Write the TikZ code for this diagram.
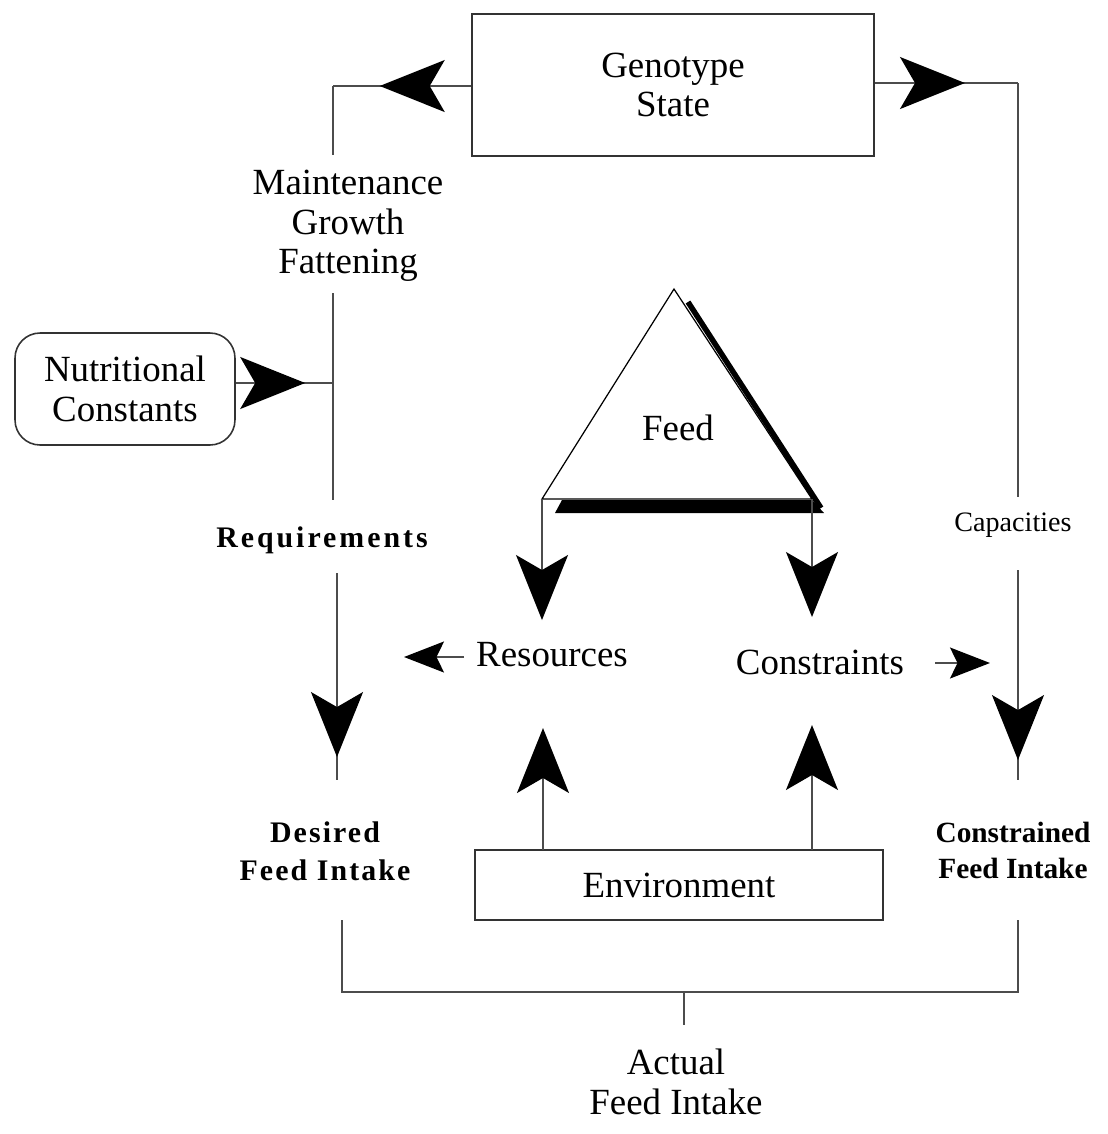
\documentclass[tikz,border=0pt]{standalone}
\usepackage{fontspec}
\setmainfont{Liberation Serif}
\newfontfamily\reqfont[LetterSpace=10]{Liberation Serif}
\newfontfamily\desfont[LetterSpace=7]{Liberation Serif}
\usetikzlibrary{arrows.meta,decorations.markings}
\tikzset{
  BigDart/.tip={Stealth[length=1.3cm,width=1.04cm,inset=0.3cm,color=black]},
  SmallDart/.tip={Stealth[length=0.8cm,width=0.62cm,inset=0.15cm,color=black]},
  wire/.style={draw=black!70,line width=0.9pt},
  dartat/.style={postaction={decorate},decoration={markings,mark=at position #1 with {\arrow{BigDart}}}},
  box/.style={draw=black!80,line width=0.9pt},
  txt/.style={align=center,font=\fontsize{21}{22.5}\selectfont},
  reqtxt/.style={font=\reqfont\bfseries\fontsize{17}{20}\selectfont},
  captxt/.style={font=\fontsize{16}{19}\selectfont},
  desiredtxt/.style={align=center,font=\desfont\bfseries\fontsize{17}{21.5}\selectfont},
  constrtxt/.style={align=center,font=\bfseries\fontsize{16.7}{20.5}\selectfont}
}

\begin{document}
\begin{tikzpicture}[x=0.02cm,y=-0.02cm]
\useasboundingbox (0,0) rectangle (1107,1134);

\node[box,txt,minimum width=8.04cm,minimum height=2.84cm] (geno) at (673,85) {Genotype\\State};
\node[box,txt,rounded corners=0.5cm,minimum width=4.4cm,minimum height=2.24cm] (nutr) at (125,389) {Nutritional\\Constants};
\node[box,txt,minimum width=8.16cm,minimum height=1.4cm] (env) at (679,885) {Environment};
\node[txt] (mgf) at (348,226) {Maintenance\\Growth\\Fattening};
\node[reqtxt] (req) at (322,540) {Requirements};
\node[captxt] (caps) at (1013,525) {Capacities};
\node[txt] (res) at (552,655) {Resources};
\node[txt] (cons) at (820,662) {Constraints};
\node[desiredtxt] (desired) at (325,851) {Desired\\Feed Intake};
\node[constrtxt] (constr) at (1013,850) {Constrained\\Feed Intake};
\node[txt] (actual) at (676,1082) {Actual\\Feed Intake};

% feed triangle with its shadow
\coordinate (apex) at (674,289);
\coordinate (tril) at (542,499);
\coordinate (trir) at (812,499);
\fill (562,500) -- (812,500) -- (824,513) -- (555,513) -- cycle;
\draw[line width=0.11cm] (688,302) -- (821,508);
\draw[line width=0.7pt] (apex) -- (trir) -- (tril) -- cycle;
\node[txt] (feed) at (678,428) {Feed};

\coordinate (tl) at (333,86);
\coordinate (tr) at (1018,83);
\coordinate (mgftop) at (333,155);
\coordinate (mgfbot) at (333,293);
\coordinate (reqtop) at (333,500);
\coordinate (nutrjoin) at (333,383);
\coordinate (reqbot) at (337,573);
\coordinate (destop) at (337,780);
\coordinate (capstop) at (1018,497);
\coordinate (capsbot) at (1018,570);
\coordinate (contop) at (1018,780);
\coordinate (resdown) at (542,620);
\coordinate (consdown) at (812,617);
\coordinate (envl) at (543,850);
\coordinate (envr) at (812,850);
\coordinate (resup) at (543,728);
\coordinate (consup) at (812,725);
\coordinate (resl) at (464,657);
\coordinate (restip) at (404,657);
\coordinate (consr) at (935,663);
\coordinate (constip) at (990,663);
\coordinate (desbot) at (342,920);
\coordinate (conbot) at (1018,920);
\coordinate (sum) at (684,992);
\coordinate (acttop) at (684,1025);

\draw[wire,dartat=0.662] (geno.west |- tl) -- (tl);
\draw[wire] (tl) -- (mgftop);
\draw[wire] (mgfbot) -- (reqtop);
\draw[wire,dartat=0.714] (nutr.east |- nutrjoin) -- (nutrjoin);
\draw[wire,dartat=0.889] (reqbot) -- (destop);
\draw[wire,dartat=0.63] (geno.east |- tr) -- (tr);
\draw[wire] (tr) -- (capstop);
\draw[wire,dartat=0.905] (capsbot) -- (contop);
\draw[wire,-BigDart] (tril) -- (resdown);
\draw[wire,-BigDart] (trir) -- (consdown);
\draw[wire,-BigDart] (envl) -- (resup);
\draw[wire,-BigDart] (envr) -- (consup);
\draw[wire,-SmallDart] (resl) -- (restip);
\draw[wire,-SmallDart] (consr) -- (constip);
\draw[wire] (desbot) -- (desbot |- sum) -- (conbot |- sum) -- (conbot);
\draw[wire] (sum) -- (acttop);
\end{tikzpicture}
\end{document}
